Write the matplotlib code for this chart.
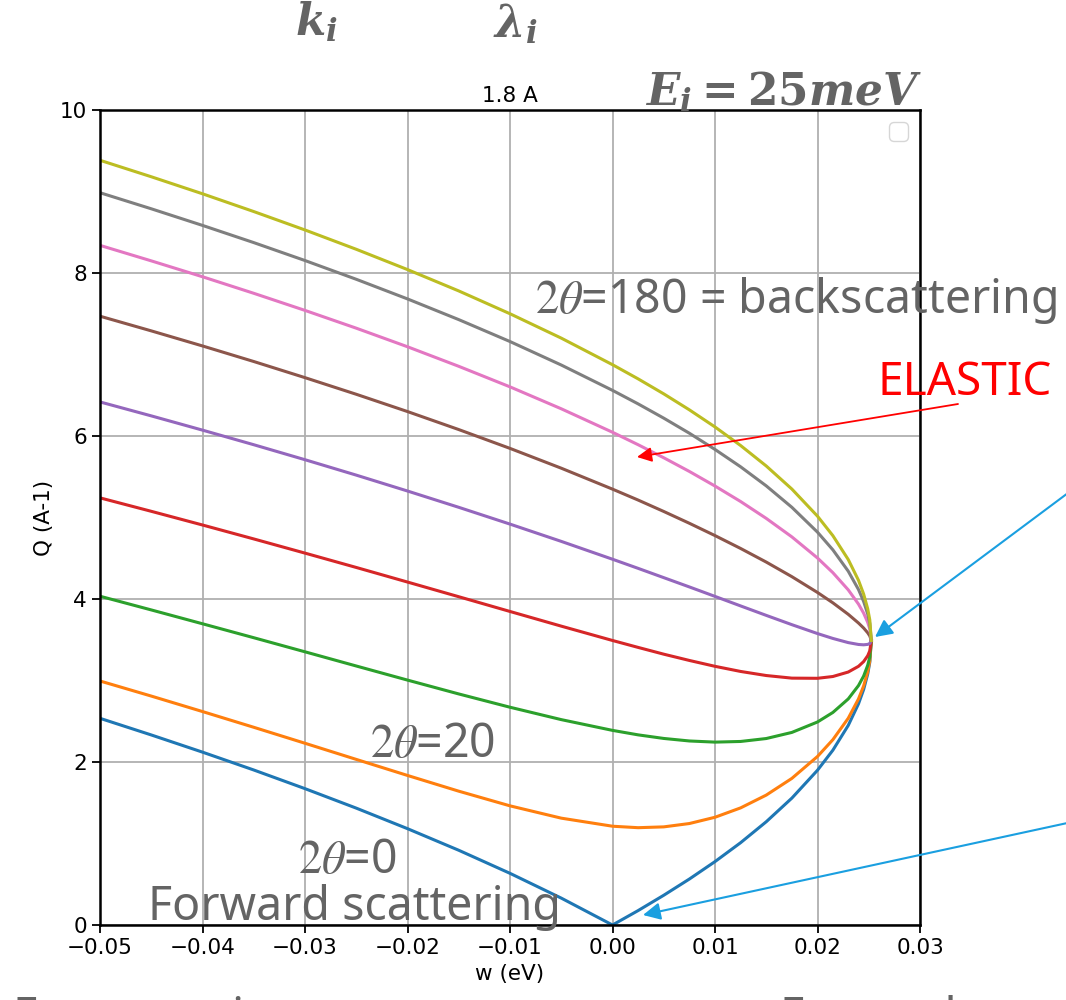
import numpy as np
import matplotlib
matplotlib.use("Agg")
from matplotlib import pyplot as plt

plt.rcParams['mathtext.fontset'] = 'custom'
plt.rcParams['mathtext.it'] = 'DejaVu Serif:italic:bold'
plt.rcParams['mathtext.rm'] = 'DejaVu Serif:bold'

# energy transfer (eV) and Q (A-1) for each scattering angle 2theta, lambda = 1.8 A
w = [-0.05, -0.045, -0.04, -0.035, -0.03, -0.025, -0.02, -0.015, -0.01, -0.005, 0.0,
     0.0025, 0.005, 0.0075, 0.01, 0.0125, 0.015, 0.0175, 0.02, 0.0215, 0.023, 0.024,
     0.0245, 0.0249, 0.0251, 0.02525]
angles = [0, 20, 40, 60, 80, 100, 120, 140, 160]
q_0 = [2.536, 2.332, 2.121, 1.902, 1.673, 1.434, 1.182, 0.917, 0.634, 0.330, 0.000, 0.177, 0.365,
       0.564, 0.778, 1.010, 1.267, 1.557, 1.899, 2.145, 2.449, 2.714, 2.889, 3.080, 3.222, 3.491]
q_20 = [2.994, 2.809, 2.619, 2.426, 2.230, 2.032, 1.835, 1.642, 1.462, 1.311, 1.212, 1.194, 1.204,
        1.245, 1.322, 1.437, 1.594, 1.799, 2.068, 2.274, 2.537, 2.774, 2.933, 3.108, 3.239, 3.491]
q_40 = [4.034, 3.866, 3.696, 3.525, 3.352, 3.178, 3.005, 2.835, 2.672, 2.520, 2.388, 2.333, 2.289,
        2.258, 2.244, 2.252, 2.288, 2.363, 2.491, 2.608, 2.774, 2.938, 3.054, 3.187, 3.289, 3.491]
q_60 = [5.241, 5.076, 4.908, 4.737, 4.563, 4.387, 4.208, 4.028, 3.847, 3.667, 3.491, 3.406, 3.323,
        3.246, 3.174, 3.111, 3.061, 3.029, 3.027, 3.049, 3.104, 3.174, 3.232, 3.304, 3.364, 3.491]
q_80 = [6.418, 6.247, 6.072, 5.893, 5.709, 5.520, 5.325, 5.125, 4.919, 4.707, 4.488, 4.376, 4.262,
        4.148, 4.032, 3.915, 3.799, 3.685, 3.576, 3.516, 3.465, 3.442, 3.438, 3.443, 3.454, 3.491]
q_100 = [7.470, 7.290, 7.105, 6.914, 6.716, 6.512, 6.300, 6.079, 5.848, 5.605, 5.348, 5.214, 5.074,
         4.929, 4.778, 4.620, 4.453, 4.274, 4.080, 3.953, 3.812, 3.705, 3.644, 3.585, 3.547, 3.491]
q_120 = [8.339, 8.149, 7.954, 7.751, 7.541, 7.323, 7.095, 6.855, 6.603, 6.334, 6.046, 5.893, 5.733,
         5.565, 5.386, 5.196, 4.989, 4.762, 4.503, 4.323, 4.112, 3.937, 3.827, 3.713, 3.633, 3.491]
q_140 = [8.985, 8.788, 8.584, 8.373, 8.153, 7.923, 7.682, 7.428, 7.159, 6.871, 6.560, 6.394, 6.219,
         6.034, 5.835, 5.622, 5.388, 5.125, 4.820, 4.603, 4.341, 4.116, 3.970, 3.815, 3.701, 3.491]
q_160 = [9.383, 9.181, 8.972, 8.754, 8.528, 8.291, 8.042, 7.780, 7.500, 7.201, 6.875, 6.701, 6.517,
         6.321, 6.111, 5.883, 5.632, 5.349, 5.016, 4.777, 4.484, 4.229, 4.061, 3.879, 3.745, 3.491]
curves = [q_0, q_20, q_40, q_60, q_80, q_100, q_120, q_140, q_160]

W, H = 1066, 1000
fig = plt.figure(figsize=(W / 100, H / 100), dpi=100)
ax = fig.add_axes([100 / W, 75 / H, 820 / W, 815 / H])
for a, q in zip(angles, curves):
    ax.plot(w, q, lw=2.2)

ax.set_xlim(-0.05, 0.03)
ax.set_ylim(0, 10)
ax.set_xticks(np.arange(-0.05, 0.031, 0.01))
ax.grid(True, lw=1.3)
ax.tick_params(labelsize=15.5, length=6, width=1.3)
for s in ax.spines.values():
    s.set_linewidth(1.8)
ax.set_xlabel('w (eV)', fontsize=15.5)
ax.set_ylabel('Q (A-1)', fontsize=15.5)
ax.set_title('1.8 A', fontsize=15.5)
ax.legend(fontsize=17)


def px(x, y, s, **kw):
    # place text by pixel position from the top-left corner
    fig.text(x / W, 1 - y / H, s, **kw)


def arrow(x0, y0, x1, y1, color, lw, size):
    ax.annotate('', xy=(x1, H - y1), xytext=(x0, H - y0), xycoords='figure pixels',
                textcoords='figure pixels', annotation_clip=False,
                arrowprops=dict(arrowstyle='-|>', color=color, lw=lw,
                                mutation_scale=size, shrinkA=0, shrinkB=0))


gray = '#646464'
slide = dict(color=gray, fontsize=31.5, math_fontfamily='custom')
px(295, 35, r'$k_i$', **slide)
px(493, 37, r'$\lambda_i$', **slide)
px(645, 105, r'$E_i = 25meV$', **slide)

big = dict(color=gray, fontsize=33.5, family='Noto Sans', math_fontfamily='stix')
px(535, 313, r'$2\theta$=180 = backscattering', **big)
px(370, 757, r'$2\theta$=20', **big)
px(298, 873, r'$2\theta$=0', **big)
px(148, 920, 'Forward scattering', **big)
px(13, 1031, 'Energy gain', **big)
px(780, 1031, 'Energy loss', **big)
px(878, 395, 'ELASTIC', color='red', fontsize=33, family='Noto Sans')

arrow(958, 404, 637, 457, 'red', 1.3, 22)
arrow(1072, 490, 875, 637, '#1a9fe0', 1.5, 26)
arrow(1072, 822, 643, 915, '#1a9fe0', 1.5, 26)

fig.savefig("out.png")
